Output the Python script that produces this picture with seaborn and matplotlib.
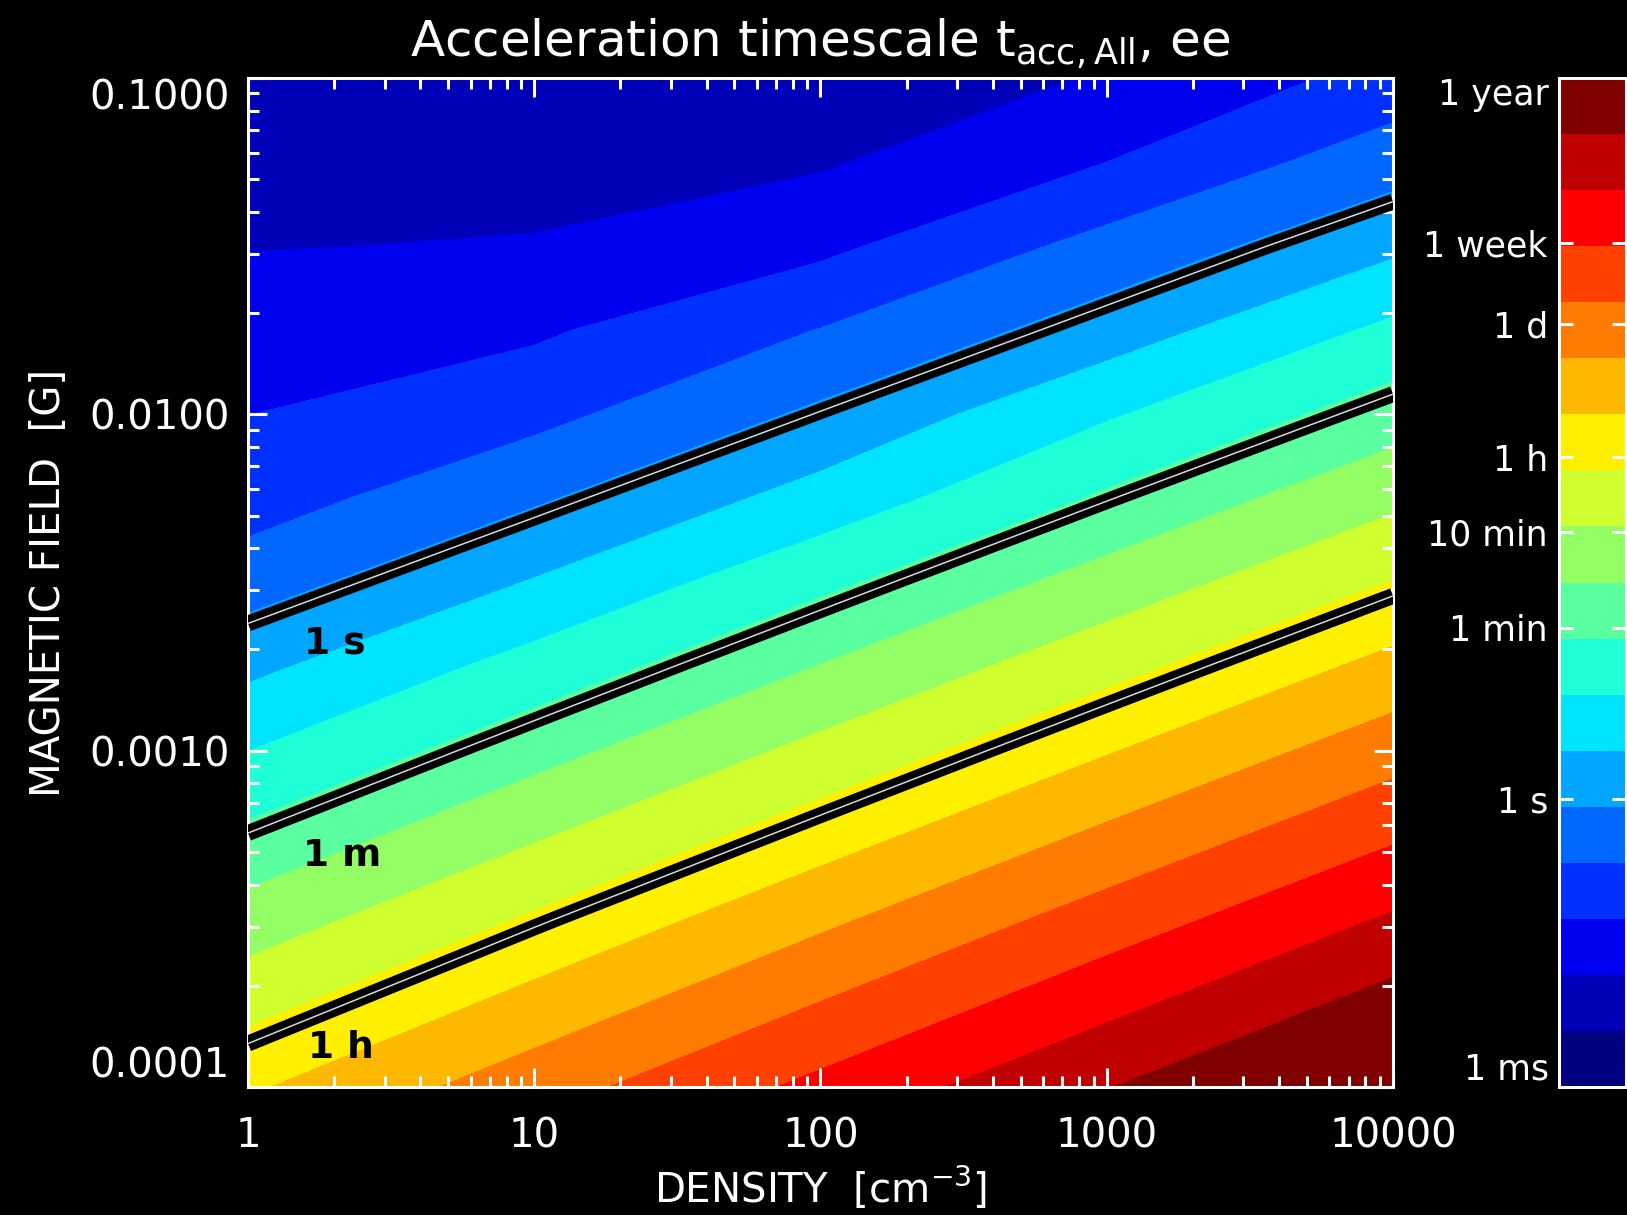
import numpy as np
import matplotlib
matplotlib.use("Agg")
import matplotlib.pyplot as plt
import seaborn as sns
from matplotlib.colors import ListedColormap, BoundaryNorm
from matplotlib.cm import ScalarMappable
from matplotlib.ticker import FixedLocator, FixedFormatter, NullFormatter

# ---------------- data ----------------
# grid nodes: log10 density [cm^-3] and log10 magnetic field [G]
log_density = [0.0, 1.0, 2.0, 3.0, 4.0]
log_field = [-4.0, -3.5, -3.0, -2.75, -2.5, -2.25, -2.0, -1.75, -1.5, -1.25, -1.0]

# log10 of acceleration timescale [s]; one list per field node, columns follow log_density
logt_B_4p00 = [3.920, 4.910, 5.900, 6.890, 7.882]
logt_B_3p50 = [2.510, 3.483, 4.455, 5.428, 6.400]
logt_B_3p00 = [1.075, 2.036, 2.997, 3.958, 4.919]
logt_B_2p75 = [0.358, 1.313, 2.268, 3.223, 4.178]
logt_B_2p50 = [-0.340, 0.539, 1.539, 2.488, 3.438]
logt_B_2p25 = [-0.946, -0.159, 0.724, 1.754, 2.697]
logt_B_2p00 = [-1.256, -0.841, 0.025, 1.018, 1.956]
logt_B_1p75 = [-1.556, -1.340, -0.649, 0.198, 1.215]
logt_B_1p50 = [-1.853, -1.800, -1.387, -0.471, 0.372]
logt_B_1p25 = [-2.050, -2.015, -1.900, -1.250, -0.330]
logt_B_1p00 = [-2.200, -2.180, -2.250, -1.787, -1.050]

# colour levels (log10 s): 1 ms ... 1 year in 18 equal steps, and their colours
band_edges = [-3.0, -2.417, -1.833, -1.250, -0.667, -0.083, 0.500, 1.083, 1.667,
              2.250, 2.833, 3.417, 4.000, 4.583, 5.167, 5.750, 6.333, 6.917, 7.5]
band_colors = ["#000080", "#0000b8", "#0000f0", "#0030ff", "#0068ff", "#00a6ff",
               "#00e4ff", "#1effd8", "#5affa0", "#94ff64", "#d0ff30", "#fff000",
               "#ffb800", "#ff7c00", "#ff4000", "#ff0000", "#c00000", "#800000"]

# highlighted contours: 1 s, 1 min, 1 h
line_levels = [0.0, 1.778, 3.556]
line_labels = ["1 s", "1 m", "1 h"]
line_label_pos = [(0.196, -2.710), (0.192, -3.343), (0.21, -3.914)]

# colour bar ticks (log10 s)
cbar_tick_values = [-3.0, 0.0, 1.778, 2.778, 3.556, 4.936, 5.782, 7.499]
cbar_tick_labels = ["1 ms", "1 s", "1 min", "10 min", "1 h", "1 d", "1 week", "1 year"]

x_tick_values = [0, 1, 2, 3, 4]
x_tick_labels = ["1", "10", "100", "1000", "10000"]
y_tick_values = [-4, -3, -2, -1]
y_tick_labels = ["0.0001", "0.0010", "0.0100", "0.1000"]

# ---------------- style ----------------
sns.set_theme(style="dark")
plt.rcParams.update({
    "figure.facecolor": "black", "axes.facecolor": "black", "savefig.facecolor": "black",
    "text.color": "white", "axes.labelcolor": "white", "xtick.color": "white",
    "ytick.color": "white", "axes.edgecolor": "white", "axes.grid": False,
    "xtick.bottom": True, "ytick.left": True, "axes.axisbelow": False,
    "mathtext.fontset": "dejavusans",
})
plt.rcParams["font.family"] = ["DejaVu Sans"]

W, H = 1627, 1215
fig = plt.figure(figsize=(W / 100, H / 100), dpi=100)
L, R, T, B = 248, 1393, 78, 1087
ax = fig.add_axes([L / W, 1 - B / H, (R - L) / W, (B - T) / H])
ax.set_axisbelow(False)

Z = np.array([logt_B_4p00, logt_B_3p50, logt_B_3p00, logt_B_2p75, logt_B_2p50,
              logt_B_2p25, logt_B_2p00, logt_B_1p75, logt_B_1p50, logt_B_1p25,
              logt_B_1p00])
X, Y = np.meshgrid(log_density, log_field)

cmap = ListedColormap(band_colors)
cmap.set_under(band_colors[0])
cmap.set_over(band_colors[-1])
norm = BoundaryNorm(band_edges, len(band_colors))

ax.contourf(X, Y, Z, levels=band_edges, cmap=cmap, norm=norm, extend="both",
            antialiased=False, zorder=1)
ax.contour(X, Y, Z, levels=line_levels, colors="black", linewidths=11.5, zorder=3)
ax.contour(X, Y, Z, levels=line_levels, colors="#d8d8d8", linewidths=1.1, zorder=4)

for lab, (lx, ly) in zip(line_labels, line_label_pos):
    ax.text(lx, ly, lab, color="black", fontsize=27, fontweight="bold",
            ha="left", va="baseline", zorder=5)

ax.set_xlim(0, 4)
ax.set_ylim(-4, -1)

minor = [d + np.log10(k) for d in range(0, 4) for k in range(2, 10)]
ax.xaxis.set_major_locator(FixedLocator(x_tick_values))
ax.xaxis.set_major_formatter(FixedFormatter(x_tick_labels))
ax.xaxis.set_minor_locator(FixedLocator(minor))
yminor = [d + np.log10(k) for d in range(-4, -1) for k in range(2, 10)]
ax.yaxis.set_major_locator(FixedLocator(y_tick_values))
ax.yaxis.set_major_formatter(FixedFormatter(["", y_tick_labels[1], y_tick_labels[2], ""]))
ax.yaxis.set_minor_locator(FixedLocator(yminor))
ax.xaxis.set_minor_formatter(NullFormatter())
ax.yaxis.set_minor_formatter(NullFormatter())

ax.tick_params(which="both", direction="in", bottom=True, left=True, top=True,
               right=True, color="white", width=2.2, labelsize=29)
ax.tick_params(which="major", length=14)
ax.tick_params(which="minor", length=8)
ax.tick_params(axis="x", which="major", pad=21)
ax.tick_params(axis="y", which="major", pad=13)
for s in ax.spines.values():
    s.set_color("white")
    s.set_linewidth(2.2)
    s.set_zorder(2.5)

# edge labels of the field axis are shifted inwards as in the original
ax.text(-18 / 1145, 0.0, y_tick_labels[0], transform=ax.transAxes, ha="right",
        va="bottom", fontsize=29, color="white")
ax.text(-18 / 1145, 1.0, y_tick_labels[3], transform=ax.transAxes, ha="right",
        va="top", fontsize=29, color="white")

ax.set_xlabel("DENSITY  [cm$^{-3}$]", fontsize=29, labelpad=6)
ax.set_ylabel("MAGNETIC FIELD  [G]", fontsize=29, labelpad=15)
ax.set_title(r"Acceleration timescale $\mathrm{t}_{\mathrm{acc,All}}$, ee",
             fontsize=36, pad=16, color="white")

# ---------------- colour bar ----------------
cx0 = 1559
cax = fig.add_axes([cx0 / W, 1 - B / H, (1626 - cx0) / W, (B - T) / H])
sm = ScalarMappable(norm=norm, cmap=cmap)
cb = fig.colorbar(sm, cax=cax, extend="neither")
cax.set_axisbelow(False)
cb.outline.set_edgecolor("white")
cb.outline.set_linewidth(2.2)
cb.set_ticks(cbar_tick_values)
cax.set_yticklabels([""] + cbar_tick_labels[1:-1] + [""])
cax.yaxis.set_ticks_position("both")
cax.tick_params(axis="y", which="major", direction="in", length=10, width=2.2,
                color="white", labelsize=25, left=True, right=True,
                labelleft=True, labelright=False, pad=8)
cax.minorticks_off()
cax.yaxis.set_zorder(3)
ticks = cax.yaxis.get_major_ticks()
for tk in (ticks[0], ticks[-1]):
    tk.tick1line.set_visible(False)
    tk.tick2line.set_visible(False)
cax.text(-10 / 67, 0.0, cbar_tick_labels[0], transform=cax.transAxes, ha="right",
         va="bottom", fontsize=25, color="white")
cax.text(-10 / 67, 1.0, cbar_tick_labels[-1], transform=cax.transAxes, ha="right",
         va="top", fontsize=25, color="white")

fig.savefig("out.png", dpi=100, facecolor="black")
